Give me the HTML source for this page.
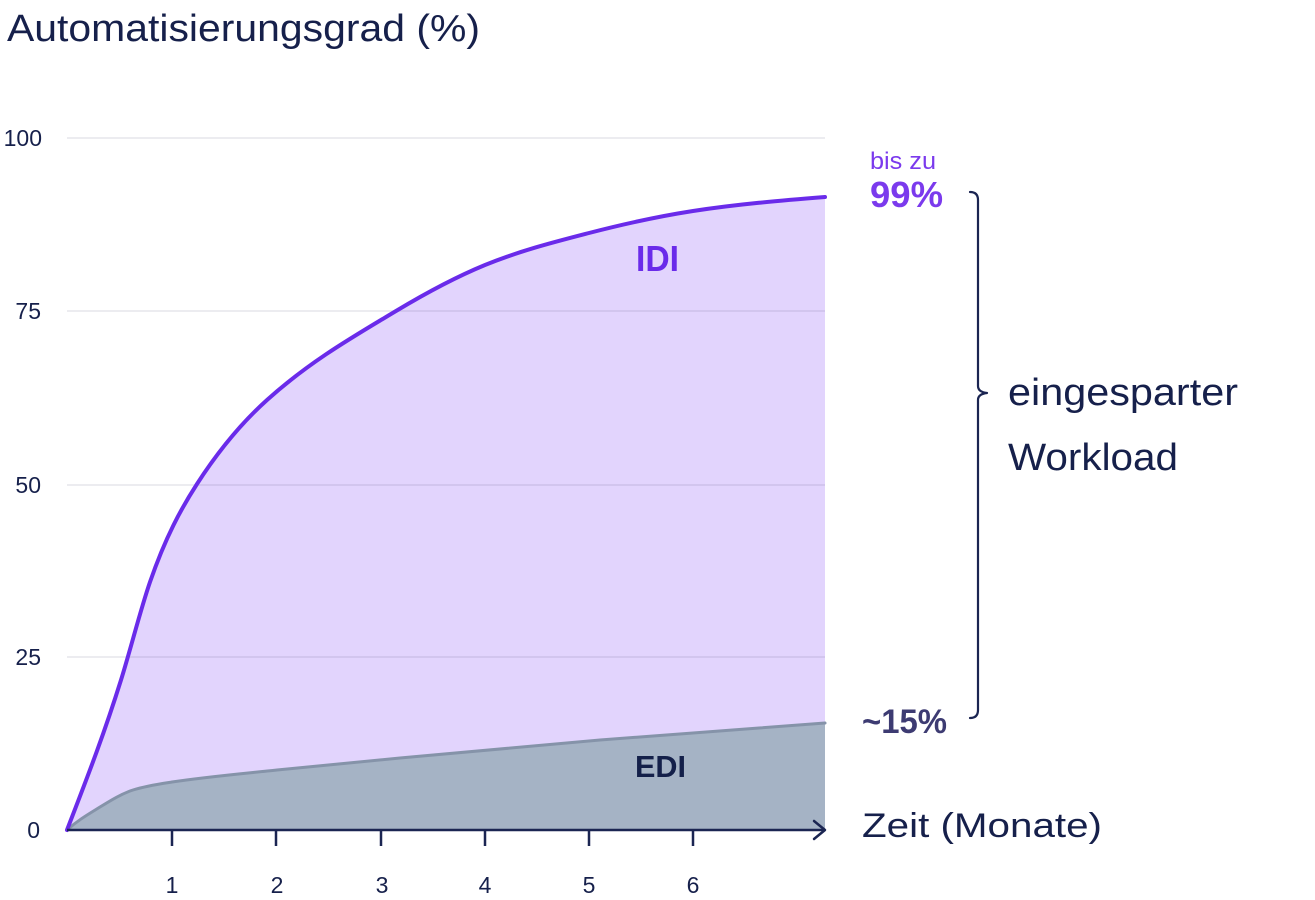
<!DOCTYPE html>
<html>
<head>
<meta charset="utf-8">
<style>
  html, body { margin: 0; padding: 0; background: #ffffff; }
  svg { display: block; }
  text { font-family: "Liberation Sans", "DejaVu Sans", sans-serif; }
</style>
</head>
<body>
<svg width="1315" height="900" viewBox="0 0 1315 900" xmlns="http://www.w3.org/2000/svg">
  <rect x="0" y="0" width="1315" height="900" fill="#ffffff"/>

  <!-- Title -->
  <text x="7" y="41" font-size="38" fill="#16204b" textLength="473" lengthAdjust="spacingAndGlyphs">Automatisierungsgrad (%)</text>

  <defs>
    <path id="idi" d="M67,830 C85,783.2 103,737.6 121,680 C130.67,649.1 140.33,610 150,582 C165.67,536.6 181.33,508.3 197,484 C220.33,447.8 243.67,421 267,400 C310,361.3 353,336.8 396,311 C425.67,293.2 455.33,277.2 485,265 C519.67,250.8 554.33,242 589,233 C623.67,224 658.33,216.4 693,211 C737,204.2 781,200.5 825,197"/>
    <path id="edi" d="M67,830 C78,820.1 89,813.8 100,807 C111,800.2 122,793.5 133,790 C146,785.8 159,784 172,782 C207,776.75 242,773.7 277,770 C318,765.7 359,761.85 400,758 C466.67,751.7 533.33,745.5 600,740 C631,737.5 662,735.4 693,733 C737,729.7 781,726.3 825,723"/>
  </defs>

  <!-- IDI area -->
  <path d="M67,830 C85,783.2 103,737.6 121,680 C130.67,649.1 140.33,610 150,582 C165.67,536.6 181.33,508.3 197,484 C220.33,447.8 243.67,421 267,400 C310,361.3 353,336.8 396,311 C425.67,293.2 455.33,277.2 485,265 C519.67,250.8 554.33,242 589,233 C623.67,224 658.33,216.4 693,211 C737,204.2 781,200.5 825,197 L825,830 Z" fill="#e2d4fd"/>

  <!-- EDI area -->
  <path d="M67,830 C78,820.1 89,813.8 100,807 C111,800.2 122,793.5 133,790 C146,785.8 159,784 172,782 C207,776.75 242,773.7 277,770 C318,765.7 359,761.85 400,758 C466.67,751.7 533.33,745.5 600,740 C631,737.5 662,735.4 693,733 C737,729.7 781,726.3 825,723 L825,830 Z" fill="#a5b3c5"/>

  <!-- Gridlines -->
  <g stroke="#3c3c64" stroke-opacity="0.13" stroke-width="1.5">
    <line x1="67" y1="138" x2="825" y2="138"/>
    <line x1="67" y1="311" x2="825" y2="311"/>
    <line x1="67" y1="485" x2="825" y2="485"/>
    <line x1="67" y1="657" x2="825" y2="657"/>
  </g>

  <!-- EDI line -->
  <use href="#edi" fill="none" stroke="#8593a9" stroke-width="3" stroke-linecap="round"/>

  <!-- IDI line -->
  <use href="#idi" fill="none" stroke="#6a2bea" stroke-width="4" stroke-linecap="round"/>

  <!-- X axis -->
  <line x1="67" y1="830" x2="825" y2="830" stroke="#1b2552" stroke-width="2.5"/>
  <polyline points="814,821 825,830 814,839" fill="none" stroke="#1b2552" stroke-width="2.5" stroke-linejoin="round" stroke-linecap="round"/>
  <g stroke="#1b2552" stroke-width="2.5">
    <line x1="172" y1="830" x2="172" y2="846"/>
    <line x1="276" y1="830" x2="276" y2="846"/>
    <line x1="381" y1="830" x2="381" y2="846"/>
    <line x1="485" y1="830" x2="485" y2="846"/>
    <line x1="589" y1="830" x2="589" y2="846"/>
    <line x1="693" y1="830" x2="693" y2="846"/>
  </g>

  <!-- X tick labels -->
  <g font-size="23" fill="#16204b" text-anchor="middle">
    <text x="172" y="893">1</text>
    <text x="277" y="893">2</text>
    <text x="382" y="893">3</text>
    <text x="485" y="893">4</text>
    <text x="589" y="893">5</text>
    <text x="693" y="893">6</text>
  </g>

  <!-- Y tick labels -->
  <g font-size="23" fill="#16204b" text-anchor="end">
    <text x="42" y="146">100</text>
    <text x="41" y="319">75</text>
    <text x="41" y="493">50</text>
    <text x="41" y="665">25</text>
    <text x="40" y="838">0</text>
  </g>

  <!-- Series labels -->
  <text x="636" y="271" font-size="36" font-weight="bold" fill="#6a2bea" textLength="43" lengthAdjust="spacingAndGlyphs">IDI</text>
  <text x="635" y="777" font-size="31" font-weight="bold" fill="#14204a" textLength="51" lengthAdjust="spacingAndGlyphs">EDI</text>

  <!-- Right annotations -->
  <text x="870" y="169" font-size="24" fill="#7b3aed" textLength="66" lengthAdjust="spacingAndGlyphs">bis zu</text>
  <text x="870" y="207" font-size="36" font-weight="bold" fill="#7b3aed" textLength="73" lengthAdjust="spacingAndGlyphs">99%</text>
  <text x="862" y="733" font-size="34" font-weight="bold" fill="#3d3b72" textLength="85" lengthAdjust="spacingAndGlyphs">~15%</text>

  <!-- Bracket -->
  <path d="M970,192 Q978,192 978,200 L978,386 Q978,392 987,393 Q978,394 978,400 L978,710 Q978,718 970,718" fill="none" stroke="#1b2552" stroke-width="2.2" stroke-linecap="round" stroke-linejoin="round"/>

  <text x="1008" y="405" font-size="38" fill="#16204b" textLength="230" lengthAdjust="spacingAndGlyphs">eingesparter</text>
  <text x="1008" y="470" font-size="38" fill="#16204b" textLength="170" lengthAdjust="spacingAndGlyphs">Workload</text>

  <text x="862" y="837" font-size="34" fill="#16204b" textLength="240" lengthAdjust="spacingAndGlyphs">Zeit (Monate)</text>
</svg>
</body>
</html>
